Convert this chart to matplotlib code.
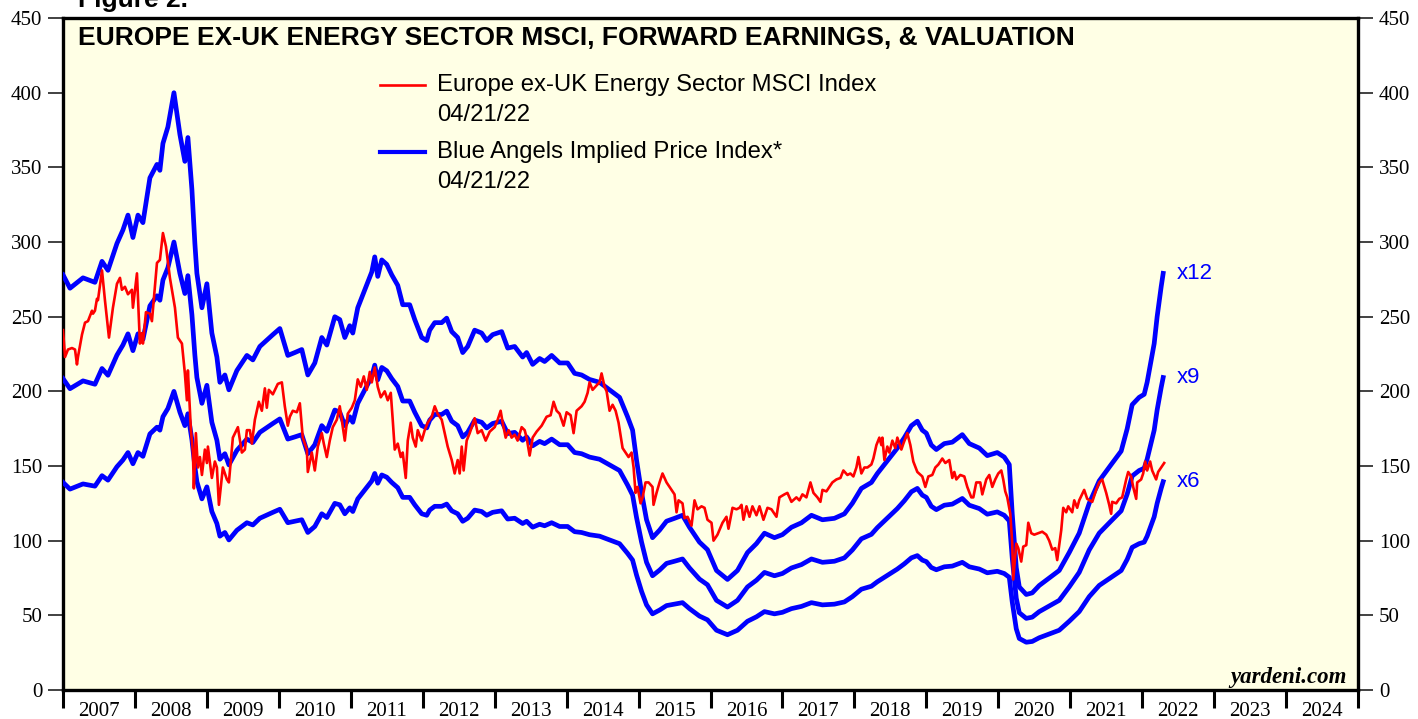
import matplotlib
matplotlib.use("Agg")
import matplotlib.pyplot as plt
import numpy as np

# ---------------- data ----------------
# Forward earnings (index points), decimal years
eps_years = [2007.000, 2007.097, 2007.278, 2007.444, 2007.542, 2007.625, 2007.750, 2007.833, 2007.903, 2007.972,
             2008.042, 2008.111, 2008.208, 2008.306, 2008.347, 2008.389, 2008.458, 2008.542, 2008.625, 2008.694,
             2008.736, 2008.792, 2008.833, 2008.861, 2008.931, 2009.000, 2009.069, 2009.139, 2009.181, 2009.250,
             2009.306, 2009.417, 2009.556, 2009.639, 2009.736, 2009.917, 2010.014, 2010.125, 2010.222, 2010.319,
             2010.403, 2010.500, 2010.597, 2010.667, 2010.778, 2010.847, 2010.917, 2010.986, 2011.028, 2011.097,
             2011.194, 2011.292, 2011.333, 2011.375, 2011.431, 2011.500, 2011.569, 2011.653, 2011.722, 2011.819,
             2011.889, 2011.986, 2012.056, 2012.097, 2012.167, 2012.264, 2012.333, 2012.403, 2012.486, 2012.556,
             2012.625, 2012.722, 2012.819, 2012.889, 2012.972, 2013.097, 2013.181, 2013.278, 2013.389, 2013.444,
             2013.528, 2013.625, 2013.694, 2013.792, 2013.903, 2014.014, 2014.111, 2014.208, 2014.319, 2014.458,
             2014.597, 2014.736, 2014.847, 2014.917, 2014.972, 2015.042, 2015.111, 2015.194, 2015.292, 2015.389,
             2015.500, 2015.611, 2015.708, 2015.847, 2015.958, 2016.083, 2016.236, 2016.375, 2016.514, 2016.639,
             2016.750, 2016.889, 2017.000, 2017.125, 2017.264, 2017.403, 2017.556, 2017.722, 2017.861, 2017.972,
             2018.097, 2018.236, 2018.319, 2018.417, 2018.514, 2018.597, 2018.694, 2018.792, 2018.875, 2018.944,
             2019.000, 2019.069, 2019.139, 2019.250, 2019.361, 2019.500, 2019.597, 2019.736, 2019.847, 2019.986,
             2020.083, 2020.153, 2020.194, 2020.250, 2020.292, 2020.389, 2020.472, 2020.569, 2020.708, 2020.847,
             2020.986, 2021.125, 2021.264, 2021.403, 2021.569, 2021.708, 2021.792, 2021.861, 2021.958, 2022.028,
             2022.069, 2022.125, 2022.167, 2022.208, 2022.264, 2022.292]
fwd_eps = [23.17, 22.42, 23.00, 22.75, 23.92, 23.42, 24.92, 25.67, 26.50, 25.25,
           26.50, 26.08, 28.58, 29.33, 29.00, 30.50, 31.42, 33.33, 31.00, 29.50,
           30.83, 27.92, 24.92, 23.25, 21.33, 22.67, 19.92, 18.58, 17.17, 17.58,
           16.75, 17.83, 18.67, 18.42, 19.17, 19.83, 20.17, 18.67, 18.83, 19.00,
           17.58, 18.25, 19.67, 19.25, 20.83, 20.67, 19.67, 20.33, 19.92, 21.33,
           22.33, 23.33, 24.17, 23.08, 24.00, 23.75, 23.17, 22.58, 21.50, 21.50,
           20.67, 19.67, 19.50, 20.08, 20.50, 20.50, 20.75, 20.00, 19.67, 18.83,
           19.17, 20.08, 19.92, 19.50, 19.83, 20.00, 19.08, 19.17, 18.58, 18.83,
           18.17, 18.50, 18.33, 18.67, 18.25, 18.25, 17.67, 17.58, 17.33, 17.17,
           16.75, 16.33, 15.25, 14.50, 12.83, 11.00, 9.50, 8.50, 8.92, 9.42,
           9.58, 9.75, 9.08, 8.25, 7.83, 6.67, 6.17, 6.67, 7.67, 8.17,
           8.75, 8.50, 8.67, 9.08, 9.33, 9.75, 9.50, 9.58, 9.83, 10.42,
           11.25, 11.58, 12.08, 12.58, 13.08, 13.50, 14.08, 14.75, 15.00, 14.50,
           14.33, 13.67, 13.42, 13.75, 13.83, 14.25, 13.75, 13.50, 13.08, 13.25,
           13.00, 12.58, 9.83, 6.83, 5.75, 5.33, 5.42, 5.83, 6.25, 6.67,
           7.67, 8.75, 10.42, 11.67, 12.58, 13.33, 14.58, 15.92, 16.33, 16.50,
           17.17, 18.42, 19.33, 20.83, 22.50, 23.25]
multiples = [6, 9, 12]
multiple_labels = ["x6", "x9", "x12"]

# Europe ex-UK Energy Sector MSCI Index
msci_years = [2007.000, 2007.028, 2007.069, 2007.125, 2007.167, 2007.194, 2007.208, 2007.264, 2007.306, 2007.347,
              2007.403, 2007.417, 2007.444, 2007.472, 2007.486, 2007.542, 2007.583, 2007.639, 2007.694, 2007.750,
              2007.792, 2007.819, 2007.861, 2007.903, 2007.958, 2007.972, 2008.028, 2008.069, 2008.097, 2008.111,
              2008.153, 2008.208, 2008.236, 2008.306, 2008.347, 2008.389, 2008.431, 2008.486, 2008.556, 2008.597,
              2008.653, 2008.694, 2008.722, 2008.736, 2008.778, 2008.806, 2008.819, 2008.847, 2008.875, 2008.903,
              2008.931, 2008.972, 2009.000, 2009.014, 2009.069, 2009.111, 2009.139, 2009.167, 2009.222, 2009.278,
              2009.306, 2009.361, 2009.431, 2009.486, 2009.528, 2009.556, 2009.597, 2009.625, 2009.667, 2009.722,
              2009.764, 2009.806, 2009.833, 2009.861, 2009.917, 2009.986, 2010.042, 2010.083, 2010.125, 2010.153,
              2010.194, 2010.250, 2010.292, 2010.333, 2010.389, 2010.403, 2010.458, 2010.500, 2010.542, 2010.597,
              2010.625, 2010.667, 2010.708, 2010.750, 2010.806, 2010.847, 2010.889, 2010.917, 2010.958, 2011.014,
              2011.056, 2011.097, 2011.139, 2011.181, 2011.222, 2011.264, 2011.292, 2011.333, 2011.375, 2011.417,
              2011.472, 2011.514, 2011.556, 2011.583, 2011.611, 2011.653, 2011.694, 2011.722, 2011.764, 2011.792,
              2011.833, 2011.861, 2011.903, 2011.931, 2011.986, 2012.028, 2012.069, 2012.125, 2012.167, 2012.208,
              2012.264, 2012.306, 2012.347, 2012.403, 2012.444, 2012.486, 2012.514, 2012.542, 2012.569, 2012.611,
              2012.653, 2012.722, 2012.764, 2012.819, 2012.875, 2012.931, 2013.000, 2013.042, 2013.083, 2013.111,
              2013.153, 2013.194, 2013.236, 2013.278, 2013.319, 2013.375, 2013.417, 2013.444, 2013.486, 2013.528,
              2013.583, 2013.653, 2013.722, 2013.778, 2013.819, 2013.861, 2013.903, 2013.958, 2014.000, 2014.056,
              2014.097, 2014.139, 2014.208, 2014.250, 2014.292, 2014.319, 2014.361, 2014.417, 2014.458, 2014.486,
              2014.528, 2014.556, 2014.597, 2014.639, 2014.681, 2014.722, 2014.778, 2014.819, 2014.861, 2014.903,
              2014.931, 2014.958, 2014.986, 2015.028, 2015.056, 2015.097, 2015.139, 2015.194, 2015.208, 2015.250,
              2015.292, 2015.333, 2015.389, 2015.431, 2015.472, 2015.500, 2015.528, 2015.556, 2015.611, 2015.639,
              2015.681, 2015.736, 2015.778, 2015.819, 2015.875, 2015.917, 2015.958, 2016.014, 2016.042, 2016.097,
              2016.167, 2016.222, 2016.250, 2016.306, 2016.361, 2016.403, 2016.431, 2016.458, 2016.500, 2016.542,
              2016.583, 2016.639, 2016.681, 2016.736, 2016.792, 2016.847, 2016.917, 2016.958, 2017.028, 2017.069,
              2017.125, 2017.194, 2017.236, 2017.278, 2017.333, 2017.389, 2017.431, 2017.486, 2017.528, 2017.556,
              2017.611, 2017.653, 2017.694, 2017.750, 2017.806, 2017.847, 2017.903, 2017.944, 2017.986, 2018.028,
              2018.056, 2018.097, 2018.139, 2018.181, 2018.236, 2018.264, 2018.306, 2018.347, 2018.375, 2018.389,
              2018.417, 2018.458, 2018.486, 2018.528, 2018.569, 2018.597, 2018.653, 2018.681, 2018.736, 2018.778,
              2018.819, 2018.875, 2018.944, 2018.986, 2019.028, 2019.083, 2019.125, 2019.167, 2019.222, 2019.264,
              2019.319, 2019.361, 2019.389, 2019.417, 2019.472, 2019.528, 2019.569, 2019.625, 2019.653, 2019.694,
              2019.750, 2019.778, 2019.833, 2019.875, 2019.917, 2019.958, 2020.000, 2020.042, 2020.069, 2020.097,
              2020.125, 2020.167, 2020.194, 2020.208, 2020.250, 2020.278, 2020.319, 2020.347, 2020.389, 2020.417,
              2020.458, 2020.500, 2020.556, 2020.611, 2020.667, 2020.708, 2020.750, 2020.792, 2020.819, 2020.875,
              2020.903, 2020.944, 2020.972, 2021.028, 2021.056, 2021.097, 2021.125, 2021.194, 2021.236, 2021.306,
              2021.361, 2021.403, 2021.444, 2021.500, 2021.542, 2021.569, 2021.583, 2021.639, 2021.681, 2021.722,
              2021.778, 2021.806, 2021.847, 2021.875, 2021.917, 2021.931, 2021.986, 2022.014, 2022.042, 2022.069,
              2022.111, 2022.139, 2022.194, 2022.222, 2022.264, 2022.306]
msci_index = [241, 223, 228, 229, 228, 218, 223, 238, 246, 247,
              254, 252, 254, 262, 261, 281, 261, 236, 256, 272,
              276, 268, 270, 265, 268, 256, 279, 232, 239, 232,
              253, 252, 247, 286, 288, 306, 297, 276, 256, 236,
              232, 212, 194, 214, 174, 159, 135, 172, 149, 156,
              144, 161, 152, 163, 142, 153, 149, 124, 149, 141,
              139, 169, 176, 159, 161, 174, 174, 165, 181, 193,
              187, 202, 189, 201, 198, 205, 206, 190, 177, 183,
              187, 186, 192, 169, 161, 146, 159, 147, 163, 172,
              165, 156, 167, 176, 181, 190, 176, 167, 185, 189,
              194, 208, 203, 210, 201, 213, 206, 216, 203, 196,
              200, 194, 199, 181, 161, 165, 156, 159, 142, 167,
              179, 169, 163, 174, 167, 174, 179, 183, 190, 185,
              181, 172, 163, 154, 145, 154, 145, 163, 147, 167,
              172, 182, 172, 174, 167, 173, 176, 181, 187, 179,
              169, 174, 169, 171, 167, 176, 174, 169, 157, 169,
              173, 177, 183, 184, 193, 187, 185, 177, 186, 184,
              172, 187, 190, 193, 199, 206, 201, 204, 206, 212,
              203, 200, 187, 191, 187, 179, 162, 159, 156, 159,
              149, 132, 136, 125, 129, 139, 139, 136, 124, 132,
              139, 145, 139, 136, 133, 131, 119, 127, 125, 115,
              116, 110, 127, 121, 123, 122, 114, 112, 100, 104,
              112, 116, 108, 122, 121, 122, 124, 114, 123, 116,
              123, 117, 123, 114, 122, 121, 116, 129, 131, 132,
              126, 129, 127, 131, 129, 139, 132, 129, 126, 134,
              133, 136, 139, 141, 142, 147, 144, 145, 143, 149,
              156, 145, 149, 149, 151, 155, 164, 169, 164, 169,
              154, 163, 159, 167, 162, 169, 161, 165, 172, 164,
              153, 146, 143, 136, 143, 144, 149, 151, 155, 152,
              154, 142, 146, 141, 144, 143, 136, 129, 129, 139,
              139, 131, 141, 144, 136, 141, 145, 147, 141, 133,
              129, 118, 98, 74, 98, 95, 86, 96, 97, 112,
              105, 104, 105, 106, 104, 100, 94, 95, 87, 107,
              122, 119, 123, 119, 127, 122, 127, 134, 128, 126,
              134, 139, 141, 132, 124, 118, 126, 125, 128, 129,
              141, 146, 143, 136, 128, 139, 141, 145, 153, 147,
              153, 147, 141, 146, 149, 152]

year_labels = [str(y) for y in range(2007, 2025)]
y_ticks = list(range(0, 451, 50))

title = "EUROPE EX-UK ENERGY SECTOR MSCI, FORWARD EARNINGS, & VALUATION"
legend_red = ["Europe ex-UK Energy Sector MSCI Index", "04/21/22"]
legend_blue = ["Blue Angels Implied Price Index*", "04/21/22"]

# ---------------- figure ----------------
W, H = 1418, 719
fig = plt.figure(figsize=(W / 100, H / 100), dpi=100)
fig.patch.set_facecolor("white")
ax = fig.add_axes([63 / W, 1 - 690 / H, (1358 - 63) / W, (690 - 18) / H])
ax.set_facecolor("#FFFFE5")

RED = "#FF0000"
BLUE = "#0000FF"
sans = "Liberation Sans"
serif = "Liberation Serif"

eps = np.array(fwd_eps)
for m, lab in zip(multiples, multiple_labels):
    ax.plot(eps_years, eps * m, color=BLUE, lw=3.4, solid_joinstyle="round", zorder=3)
    ax.text(eps_years[-1] + 0.19, eps[-1] * m, lab, color=BLUE, fontsize=16,
            family=sans, va="center", ha="left", zorder=5)
ax.plot(msci_years, msci_index, color=RED, lw=1.9, zorder=4)

ax.set_xlim(2007, 2025)
ax.set_ylim(0, 450)

ax.set_yticks(y_ticks)
ax.set_yticklabels([str(v) for v in y_ticks], family=serif, fontsize=15)
ax.tick_params(axis="y", which="both", direction="out", length=11, width=1.3,
               color="#333333", pad=4, left=True, right=True, labelleft=True, labelright=True)
for lbl in ax.get_yticklabels(which="both"):
    lbl.set_family(serif)

ax.set_xticks(range(2007, 2026))
ax.set_xticklabels([])
ax.set_xticks([y + 0.5 for y in range(2007, 2025)], minor=True)
ax.set_xticklabels(year_labels, minor=True, family=serif, fontsize=15)
ax.tick_params(axis="x", which="major", direction="out", length=13, width=2.2, color="black")
ax.tick_params(axis="x", which="minor", length=0, pad=9)

for s in ax.spines.values():
    s.set_linewidth(2.4)
    s.set_color("black")

# title
ax.text(0.0116, 0.970, title, transform=ax.transAxes, fontsize=19, fontweight="bold",
        family=sans, va="center", ha="left")
fig.text(78 / W, 1 - 7 / H, "Figure 2.", fontsize=19, fontweight="bold",
         family=sans, va="baseline", ha="left")

# legend (manual)
def fx(px):
    return (px - 63) / (1358 - 63)

def fy(py):
    return (690 - py) / (690 - 18)

ax.plot([fx(380), fx(425)], [fy(85), fy(85)], color=RED, lw=1.9, transform=ax.transAxes)
ax.plot([fx(380), fx(425)], [fy(152), fy(152)], color=BLUE, lw=3.0, transform=ax.transAxes)
for txt, py in [(legend_red[0], 85), (legend_red[1], 115), (legend_blue[0], 152), (legend_blue[1], 182)]:
    ax.text(fx(437), fy(py), txt, transform=ax.transAxes, fontsize=17.2,
            family=sans, va="center", ha="left")

ax.text(fx(1347), fy(683), "yardeni.com", transform=ax.transAxes, fontsize=16.5,
        family=serif, fontweight="bold", fontstyle="italic", ha="right", va="baseline")

fig.savefig("out.png", dpi=100)
